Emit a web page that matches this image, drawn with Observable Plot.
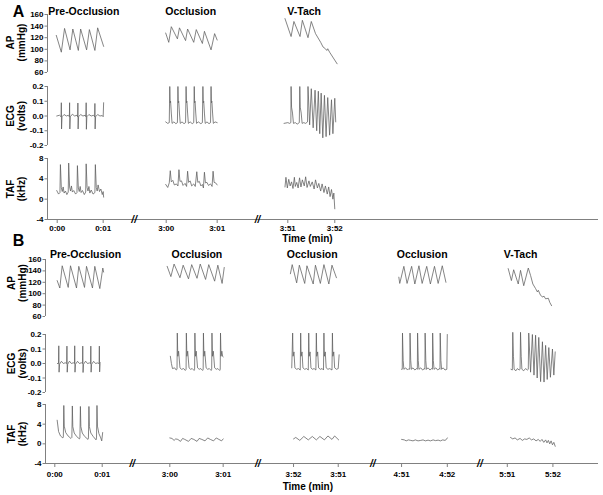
<!DOCTYPE html>
<html><head><meta charset="utf-8">
<script src="https://cdn.jsdelivr.net/npm/d3@7"></script>
<script src="https://cdn.jsdelivr.net/npm/@observablehq/plot@0.6"></script>
<style>
html,body{margin:0;padding:0;background:#fff;}
#chart{position:relative;width:603px;height:495px;overflow:hidden;background:#fff;}
#chart svg{position:absolute;left:0;background:transparent !important;}
</style></head><body><div id="chart"></div>
<script>
// ---------- Panel A data ----------
const titlesA = ["Pre-Occlusion", "Occlusion", "V-Tach"];
const segStartA = [0, 2.295, 4.855];
const segEndA = [0.968, 3.368, 5.844];
const tickLabelsA = ["0:00", "0:01", "3:00", "3:01", "3:51", "3:52"];
const breaksA = [1.62, 4.217];
const titleXA = [0.56, 2.81, 5.2];

const apA_pre = [[-0.02,124],[0.09,95],[0.16,136],[0.28,99],[0.34,135],[0.46,98],[0.51,135],[0.64,99],[0.70,134],[0.82,98],[0.88,137],[1.01,105]];
const apA_occ = [[-0.01,128],[0.05,112],[0.10,139],[0.22,118],[0.26,137],[0.38,115],[0.42,135],[0.54,112],[0.59,134],[0.71,110],[0.75,131],[0.88,99],[0.95,127],[1.0,116]];
const apA_vt = [[-0.06,153],[0.07,122],[0.13,148],[0.26,122],[0.31,150],[0.43,120],[0.50,148],[0.59,127],[0.70,112],[0.75,104],[0.80,101],[0.83,98],[0.85,101],[0.89,95],[1.05,75]];

const ecgA_pre = [[-0.01,0.0],[0.05,0.005],[0.085,-0.005],[0.09,0.09],[0.095,-0.088],[0.105,-0.005],[0.15,0.01],[0.2,0.0],[0.24,0.005],[0.265,-0.005],[0.27,0.09],[0.275,-0.088],[0.285,-0.005],[0.33,0.012],[0.38,0.0],[0.43,0.005],[0.445,-0.005],[0.45,0.088],[0.455,-0.088],[0.465,-0.005],[0.51,0.01],[0.56,0.0],[0.61,0.005],[0.625,-0.005],[0.63,0.09],[0.635,-0.09],[0.645,-0.005],[0.69,0.01],[0.74,0.0],[0.79,0.005],[0.815,-0.005],[0.82,0.085],[0.825,-0.088],[0.835,-0.005],[0.88,0.01],[0.93,0.0],[0.98,0.003],[1.0,-0.005],[1.01,0.09]];
const ecgA_occ = [[-0.01,-0.04],[0.03,-0.05],[0.06,-0.045],[0.07,0.2],[0.078,0.09],[0.086,0.1],[0.1,0.02],[0.115,-0.05],[0.15,-0.04],[0.19,-0.052],[0.22,-0.045],[0.23,0.2],[0.238,0.09],[0.246,0.1],[0.26,0.02],[0.275,-0.05],[0.31,-0.04],[0.35,-0.052],[0.38,-0.045],[0.39,0.2],[0.398,0.09],[0.406,0.1],[0.42,0.02],[0.435,-0.05],[0.47,-0.04],[0.51,-0.052],[0.54,-0.045],[0.55,0.2],[0.558,0.09],[0.566,0.1],[0.58,0.02],[0.595,-0.05],[0.63,-0.04],[0.68,-0.052],[0.71,-0.045],[0.72,0.2],[0.728,0.09],[0.736,0.1],[0.75,0.02],[0.765,-0.05],[0.8,-0.04],[0.84,-0.052],[0.87,-0.045],[0.88,0.2],[0.888,0.09],[0.896,0.1],[0.91,0.02],[0.925,-0.05],[0.96,-0.04],[1.0,-0.045]];
const ecgA_vt = [[-0.08,-0.05],[0.0,-0.045],[0.04,-0.05],[0.065,-0.045],[0.07,0.2],[0.08,0.06],[0.1,0.02],[0.12,-0.05],[0.16,-0.045],[0.2,-0.055],[0.245,-0.045],[0.255,0.2],[0.265,0.06],[0.285,0.02],[0.305,-0.05],[0.34,-0.045],[0.38,-0.05],[0.42,-0.04],[0.43,0.2],[0.465,-0.06],[0.5,0.185],[0.54,-0.08],[0.58,0.175],[0.615,-0.1],[0.65,0.168],[0.68,-0.12],[0.71,0.155],[0.745,-0.148],[0.78,0.14],[0.815,-0.14],[0.85,0.125],[0.89,-0.13],[0.93,0.11],[0.96,-0.12],[1.0,0.12],[1.02,-0.04]];

const tafA_pre = [[-0.01,1.7],[0.03,1.0],[0.06,1.3],[0.07,6.8],[0.09,2.3],[0.11,1.5],[0.13,2.4],[0.15,1.2],[0.18,1.6],[0.21,0.9],[0.24,1.4],[0.25,7.1],[0.27,2.4],[0.29,1.6],[0.31,2.6],[0.33,1.4],[0.36,1.7],[0.4,1.0],[0.43,1.3],[0.44,6.6],[0.46,2.2],[0.48,1.5],[0.5,2.5],[0.52,1.3],[0.55,1.7],[0.59,0.9],[0.62,1.4],[0.63,6.95],[0.65,2.3],[0.67,1.6],[0.69,2.5],[0.71,1.2],[0.74,1.8],[0.78,1.0],[0.82,1.3],[0.83,6.8],[0.85,2.3],[0.87,1.6],[0.89,2.8],[0.92,1.5],[0.95,2.0],[0.98,0.9],[1.0,1.5],[1.01,0.4]];
const tafA_occ = [[-0.01,2.9],[0.03,2.3],[0.06,3.2],[0.08,5.6],[0.1,3.4],[0.13,3.7],[0.16,2.8],[0.2,3.0],[0.23,2.6],[0.25,5.8],[0.27,3.5],[0.3,3.6],[0.33,2.7],[0.37,3.1],[0.4,2.5],[0.42,5.5],[0.44,3.3],[0.47,3.6],[0.5,2.6],[0.54,3.0],[0.57,2.5],[0.6,5.4],[0.62,3.3],[0.65,3.5],[0.68,2.6],[0.71,2.9],[0.73,2.2],[0.75,5.3],[0.77,3.2],[0.8,3.3],[0.83,2.7],[0.87,3.0],[0.9,2.5],[0.92,5.5],[0.94,3.3],[0.97,3.2],[1.0,2.8]];
const tafA_vt = [[-0.06,2.4],[-0.04,4.3],[-0.01,2.2],[0.02,3.9],[0.05,2.6],[0.08,3.4],[0.11,2.1],[0.14,4.3],[0.16,2.5],[0.19,3.3],[0.22,2.2],[0.25,4.2],[0.28,2.4],[0.31,3.8],[0.35,2.6],[0.38,4.4],[0.41,2.3],[0.45,3.6],[0.48,2.5],[0.52,3.4],[0.56,2.0],[0.59,3.8],[0.63,2.2],[0.66,3.1],[0.7,1.6],[0.73,3.0],[0.77,1.3],[0.8,2.6],[0.84,1.0],[0.87,2.4],[0.9,0.5],[0.93,1.9],[0.96,0.0],[0.98,1.2],[1.0,-1.9]];

// ---------- Panel B data ----------
const titlesB = ["Pre-Occlusion", "Occlusion", "Occlusion", "Occlusion", "V-Tach"];
const segStartB = [0, 2.473, 5.133, 7.456, 9.729];
const segEndB = [1.019, 3.62, 6.094, 8.439, 10.71];
const tickLabelsB = ["0:00", "0:01", "3:00", "3:01", "3:52", "3:51", "4:51", "4:52", "5:51", "5:52"];
const breaksB = [1.667, 4.364, 6.837, 9.14];
const titleXB = [0.66, 3.054, 5.535, 7.9, 10.015];

const apB_pre = [[0.05,123],[0.106,110],[0.156,149],[0.283,111],[0.331,149],[0.458,110],[0.506,148],[0.627,111],[0.669,148],[0.795,110],[0.844,148],[0.95,109],[1.013,145],[1.03,138]];
const apB_occ = [[-0.05,148],[0.02,130],[0.08,152],[0.19,128],[0.25,150],[0.35,126],[0.41,151],[0.51,127],[0.57,152],[0.67,125],[0.73,151],[0.84,122],[0.9,150],[0.98,118],[1.02,146]];
const apB_occ3 = [[-0.07,135],[-0.03,151],[0.07,119],[0.13,150],[0.25,118],[0.3,149],[0.44,117],[0.49,150],[0.6,118],[0.68,151],[0.79,117],[0.86,150],[0.96,128]];
const apB_occ4 = [[-0.06,129],[-0.04,118],[0.05,148],[0.12,118],[0.22,148],[0.29,117],[0.38,149],[0.45,118],[0.55,148],[0.63,117],[0.72,148],[0.8,118],[0.89,149],[0.97,120]];
const apB_vt = [[0.02,144],[0.09,123],[0.14,142],[0.24,117],[0.29,141],[0.36,114],[0.46,145],[0.51,132],[0.56,117],[0.62,109],[0.66,103],[0.68,106],[0.73,97],[0.78,94],[0.8,96],[0.84,91],[0.9,92],[0.93,85],[0.97,79]];

const ecgB_pre = [[0.055,0.0],[0.078,0.0],[0.084,0.122],[0.09,-0.06],[0.1,-0.005],[0.14,0.015],[0.18,0.0],[0.22,0.005],[0.25,0.0],[0.256,0.12],[0.262,-0.06],[0.272,-0.005],[0.31,0.016],[0.35,0.0],[0.39,0.005],[0.415,0.0],[0.42,0.122],[0.426,-0.06],[0.436,-0.005],[0.48,0.015],[0.52,0.0],[0.56,0.005],[0.585,0.0],[0.59,0.12],[0.596,-0.062],[0.606,-0.005],[0.65,0.016],[0.69,0.0],[0.73,0.004],[0.755,0.0],[0.76,0.12],[0.766,-0.06],[0.776,-0.005],[0.82,0.015],[0.86,0.0],[0.9,0.004],[0.935,0.0],[0.94,0.12],[0.946,-0.058],[0.955,0.0],[0.96,0.005]];
const ecgB_occ = [[0.01,0.05],[0.03,0.0],[0.05,-0.035],[0.09,-0.03],[0.12,-0.045],[0.135,-0.04],[0.14,0.21],[0.15,0.05],[0.165,0.085],[0.19,-0.03],[0.22,-0.04],[0.26,-0.035],[0.29,-0.048],[0.305,-0.04],[0.31,0.21],[0.32,0.05],[0.335,0.085],[0.36,-0.03],[0.39,-0.04],[0.42,-0.035],[0.455,-0.048],[0.465,-0.04],[0.47,0.21],[0.48,0.05],[0.495,0.085],[0.52,-0.03],[0.55,-0.04],[0.58,-0.035],[0.615,-0.048],[0.625,-0.04],[0.63,0.21],[0.64,0.05],[0.655,0.085],[0.68,-0.03],[0.71,-0.04],[0.74,-0.035],[0.775,-0.048],[0.785,-0.04],[0.79,0.21],[0.8,0.05],[0.815,0.085],[0.84,-0.03],[0.87,-0.04],[0.9,-0.035],[0.935,-0.048],[0.945,-0.04],[0.95,0.21],[0.96,0.05],[0.975,0.085],[0.99,0.05],[1.0,0.045]];
const ecgB_occ3 = [[-0.04,-0.03],[-0.02,0.21],[-0.01,0.05],[0.01,0.08],[0.03,-0.03],[0.07,-0.04],[0.11,-0.035],[0.15,-0.045],[0.16,0.21],[0.17,0.05],[0.19,0.08],[0.21,-0.03],[0.25,-0.04],[0.29,-0.035],[0.33,-0.045],[0.34,0.21],[0.35,0.05],[0.37,0.08],[0.39,-0.03],[0.42,-0.04],[0.46,-0.035],[0.5,-0.045],[0.51,0.21],[0.52,0.05],[0.54,0.08],[0.56,-0.03],[0.6,-0.04],[0.64,-0.035],[0.67,-0.045],[0.68,0.21],[0.69,0.05],[0.71,0.08],[0.73,-0.03],[0.77,-0.04],[0.81,-0.035],[0.86,-0.045],[0.87,0.21],[0.88,0.05],[0.9,0.08],[0.92,-0.03],[0.96,-0.04],[1.0,-0.035],[1.02,0.06]];
const ecgB_occ4 = [[0.0,-0.04],[0.015,-0.04],[0.02,0.21],[0.035,0.02],[0.05,-0.04],[0.09,-0.03],[0.13,-0.045],[0.16,-0.035],[0.18,-0.04],[0.185,0.21],[0.2,0.02],[0.215,-0.04],[0.25,-0.03],[0.29,-0.045],[0.33,-0.035],[0.345,-0.04],[0.35,0.21],[0.365,0.02],[0.38,-0.04],[0.42,-0.03],[0.46,-0.045],[0.5,-0.035],[0.51,-0.04],[0.515,0.21],[0.53,0.02],[0.545,-0.04],[0.58,-0.03],[0.62,-0.045],[0.66,-0.035],[0.675,-0.04],[0.68,0.21],[0.695,0.02],[0.71,-0.04],[0.75,-0.03],[0.79,-0.045],[0.83,-0.035],[0.84,-0.04],[0.845,0.21],[0.86,0.02],[0.875,-0.04],[0.91,-0.03],[0.95,-0.045],[0.99,-0.04],[1.0,0.2]];
const ecgB_vt = [[0.08,-0.04],[0.11,-0.045],[0.12,0.215],[0.135,0.05],[0.15,-0.04],[0.19,-0.05],[0.22,-0.035],[0.26,-0.045],[0.28,-0.04],[0.29,0.215],[0.305,0.05],[0.32,-0.04],[0.36,-0.05],[0.4,-0.035],[0.44,-0.045],[0.46,-0.04],[0.47,0.21],[0.51,-0.06],[0.55,0.2],[0.585,-0.08],[0.62,0.195],[0.655,-0.1],[0.69,0.18],[0.73,-0.125],[0.77,0.15],[0.805,-0.128],[0.84,0.125],[0.875,-0.11],[0.91,0.11],[0.945,-0.095],[0.99,0.1],[1.02,-0.08],[1.05,0.08]];

const tafB_pre = [[0.05,4.8],[0.08,2.5],[0.12,1.6],[0.17,1.2],[0.18,1.4],[0.19,7.8],[0.2,3.6],[0.23,2.3],[0.28,1.6],[0.34,1.1],[0.36,1.3],[0.37,7.7],[0.38,3.5],[0.41,2.2],[0.46,1.5],[0.52,1.0],[0.53,1.2],[0.54,7.6],[0.55,3.5],[0.58,2.2],[0.63,1.5],[0.7,0.9],[0.71,1.2],[0.72,7.6],[0.73,3.5],[0.76,2.2],[0.81,1.5],[0.87,0.8],[0.88,1.2],[0.89,7.8],[0.9,3.6],[0.93,2.1],[0.97,1.2],[0.99,0.6],[1.01,2.3]];
const tafB_occ = [[0.0,1.2],[0.04,1.1],[0.08,0.7],[0.11,1.0],[0.15,0.9],[0.2,0.5],[0.24,1.1],[0.28,0.9],[0.35,0.5],[0.4,1.1],[0.45,0.9],[0.51,0.5],[0.55,1.1],[0.6,0.9],[0.66,0.6],[0.71,1.2],[0.76,0.9],[0.82,0.6],[0.87,1.2],[0.92,0.9],[0.97,0.6],[1.0,1.0]];
const tafB_occ3 = [[0.0,1.0],[0.05,1.3],[0.14,0.7],[0.23,1.5],[0.33,0.8],[0.42,1.5],[0.51,0.8],[0.59,1.5],[0.69,0.8],[0.77,1.6],[0.86,0.9],[0.92,1.6],[1.01,0.8]];
const tafB_occ4 = [[0.0,0.9],[0.06,0.8],[0.1,0.6],[0.15,0.8],[0.2,0.7],[0.25,0.6],[0.3,0.8],[0.36,0.6],[0.42,0.7],[0.47,0.8],[0.52,0.6],[0.58,0.75],[0.63,0.6],[0.69,0.8],[0.74,0.65],[0.8,0.75],[0.85,0.6],[0.9,0.8],[0.95,0.7],[0.98,0.9],[1.0,1.2]];
const tafB_vt = [[0.07,1.3],[0.12,1.0],[0.17,1.2],[0.22,0.8],[0.28,1.1],[0.33,0.7],[0.38,1.0],[0.43,0.9],[0.48,1.2],[0.53,0.8],[0.58,1.0],[0.63,0.6],[0.68,0.9],[0.72,0.5],[0.76,0.9],[0.8,0.3],[0.84,0.8],[0.87,0.2],[0.9,0.7],[0.93,0.0],[0.96,0.6],[0.99,-0.2],[1.02,0.3],[1.05,-0.5]];

// ---------- axis definitions ----------
const apTicks = [60, 80, 100, 120, 140, 160];
const ecgTicks = [-0.2, -0.1, 0, 0.1, 0.2];
const tafTicks = [-4, 0, 4, 8];

// ---------- rendering ----------
const FONT = "'Liberation Sans', Arial, Helvetica, sans-serif";
const AXIS = "#808080";
const TRACE = "#5c5c5c";
const chart = document.getElementById("chart");

function toRows(traces, starts, ends) {
  return traces.flatMap((tr, i) => tr.map(([t, v]) => ({seg: i, x: starts[i] + t * (ends[i] - starts[i]), v})));
}

function row(o) {
  const marks = [
    Plot.ruleX([o.xDomain[0]], {y1: o.yDomain[0], y2: o.yDomain[1], stroke: AXIS, strokeWidth: 1}),
    Plot.axisY(o.yTicks, {anchor: "left", tickSize: 2.5, tickPadding: 1.5, tickFormat: o.yFmt, stroke: AXIS, fill: "black", fontSize: 8, fontWeight: "bold", label: null}),
    Plot.line(o.data, {x: "x", y: "v", z: "seg", stroke: TRACE, strokeWidth: 0.75}),
    Plot.text([o.yLabel], {frameAnchor: "left", dx: o.labelDx, dy: o.labelDy || 0, rotate: -90, fontSize: 10, fontWeight: "bold", lineHeight: 1.1, textAnchor: "middle", lineAnchor: "middle", fill: "black"})
  ];
  if (o.extra) marks.push(...o.extra);
  const plot = Plot.plot({
    width: 603, height: o.height,
    marginTop: o.mt, marginBottom: o.mb, marginLeft: o.ml, marginRight: 5,
    style: {background: "transparent", fontFamily: FONT, fontWeight: "bold", fontSize: "8px", color: "black", overflow: "visible"},
    x: o.xAxis ? {domain: o.xDomain, label: null} : {domain: o.xDomain, axis: null},
    y: {domain: o.yDomain, label: null},
    marks
  });
  plot.style.top = o.top + "px";
  chart.appendChild(plot);
}

function panel(p) {
  const xTicks = p.segStart.flatMap((s, i) => [s, p.segEnd[i]]);
  const labelMap = new Map(xTicks.map((d, i) => [d, p.tickLabels[i]]));
  row({top: p.ap.top, height: p.ap.h, mt: p.ap.mt, mb: 4, ml: p.ml, xDomain: p.xDomain,
    yDomain: [60, 160], yTicks: apTicks, yFmt: d => String(d), yLabel: "AP\n(mmHg)", labelDx: p.labelDx, labelDy: p.apLabelDy,
    data: toRows(p.ap.traces, p.segStart, p.segEnd),
    extra: [
      Plot.text(p.titles, {x: p.titleX, y: p.titleY, fontSize: 10.5, fontWeight: "bold", fill: "black", lineAnchor: "middle"}),
      Plot.text([p.key], {frameAnchor: "top-left", dx: p.keyDx, dy: p.keyDy, fontSize: 16, fontWeight: "bold", fill: "black", textAnchor: "middle", lineAnchor: "middle"})
    ]});
  row({top: p.ecg.top, height: p.ecg.h, mt: p.ecg.mt, mb: 4, ml: p.ml, xDomain: p.xDomain,
    yDomain: [-0.2, 0.2], yTicks: ecgTicks, yFmt: d => d.toFixed(1), yLabel: "ECG\n(volts)", labelDx: p.labelDx,
    data: toRows(p.ecg.traces, p.segStart, p.segEnd)});
  row({top: p.taf.top, height: p.taf.h, mt: p.taf.mt, mb: p.taf.mb, ml: p.ml, xDomain: p.xDomain, xAxis: true,
    yDomain: [-4, 8], yTicks: tafTicks, yFmt: d => String(d), yLabel: "TAF\n(kHz)", labelDx: p.labelDx,
    data: toRows(p.taf.traces, p.segStart, p.segEnd),
    extra: [
      Plot.ruleY([-4], {stroke: AXIS, strokeWidth: 1}),
      Plot.axisX(xTicks, {anchor: "bottom", tickSize: 4, tickPadding: p.xTickPad, tickFormat: d => labelMap.get(d), stroke: AXIS, fill: "black", fontSize: 8, fontWeight: "bold", label: null}),
      Plot.text(p.breaks, {x: d => d, y: -4, text: () => "//", fontSize: 10, fontWeight: "bold", fontStyle: "italic", fill: "black", lineAnchor: "middle"}),
      Plot.text(["Time (min)"], {x: p.timeX, frameAnchor: "bottom", dy: p.timeDy, fontSize: 10, fontWeight: "bold", fill: "black", lineAnchor: "middle"})
    ]});
}

panel({
  key: "A", ml: 47, xDomain: [-0.204, 11.396], segStart: segStartA, segEnd: segEndA,
  tickLabels: tickLabelsA, breaks: breaksA, titles: titlesA, titleX: titleXA, titleY: 164.8,
  keyDx: -29, keyDy: -3, labelDx: -32, apLabelDy: -1, xTickPad: 1.6, timeX: 5.27, timeDy: 19.5,
  ap: {top: 0, h: 76, mt: 14, traces: [apA_pre, apA_occ, apA_vt]},
  ecg: {top: 78, h: 71, mt: 8, traces: [ecgA_pre, ecgA_occ, ecgA_vt]},
  taf: {top: 152, h: 93, mt: 6, mb: 26, traces: [tafA_pre, tafA_occ, tafA_vt]}
});

panel({
  key: "B", ml: 45, xDomain: [-0.2, 11.69], segStart: segStartB, segEnd: segEndB,
  tickLabels: tickLabelsB, breaks: breaksB, titles: titlesB, titleX: titleXB, titleY: 168,
  keyDx: -27, keyDy: -18.5, labelDx: -29, apLabelDy: -5, xTickPad: 3.4, timeX: 5.44, timeDy: 23,
  ap: {top: 235, h: 85, mt: 24, traces: [apB_pre, apB_occ, apB_occ3, apB_occ4, apB_vt]},
  ecg: {top: 328, h: 68, mt: 6, traces: [ecgB_pre, ecgB_occ, ecgB_occ3, ecgB_occ4, ecgB_vt]},
  taf: {top: 398, h: 96, mt: 6, mb: 31, traces: [tafB_pre, tafB_occ, tafB_occ3, tafB_occ4, tafB_vt]}
});
</script></body></html>
